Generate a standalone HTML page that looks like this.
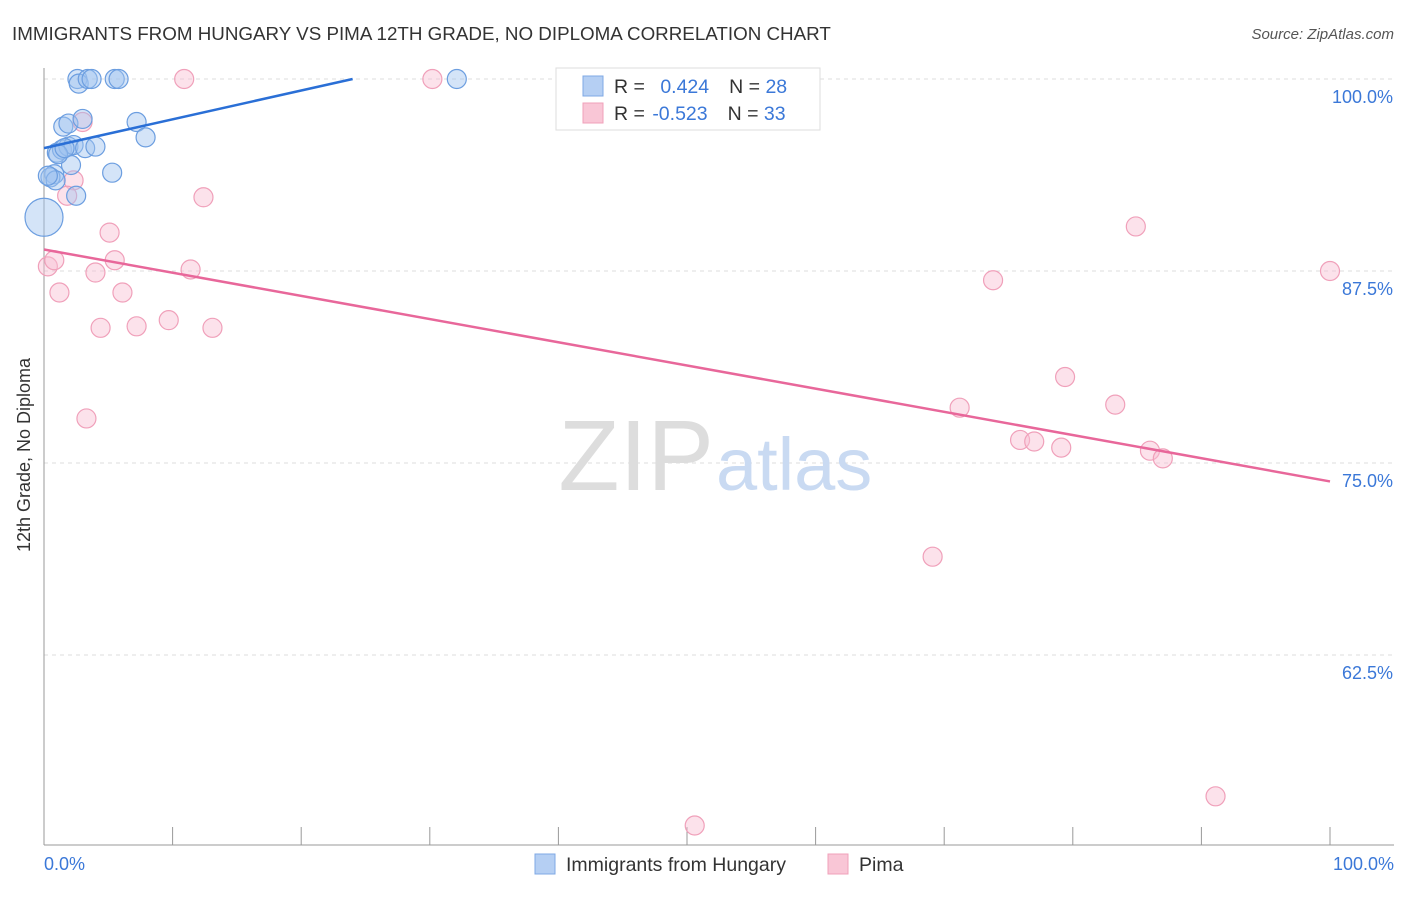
<!DOCTYPE html>
<html><head><meta charset="utf-8"><style>
body{margin:0;background:#fff;font-family:"Liberation Sans",sans-serif}
svg text{font-family:"Liberation Sans",sans-serif}
</style></head><body>
<svg width="1406" height="892">
<text x="12" y="40" font-size="18.8" fill="#333">IMMIGRANTS FROM HUNGARY VS PIMA 12TH GRADE, NO DIPLOMA CORRELATION CHART</text>
<text x="1394" y="39" font-size="15" fill="#555" text-anchor="end" font-style="italic">Source: ZipAtlas.com</text>
<g id="grid"></g>
<text x="714" y="490" font-size="100" fill="#ddd" text-anchor="end" font-family="Liberation Serif">ZIP</text>
<text x="716" y="490" font-size="74" fill="#c9daf2">atlas</text>
<line x1="44" y1="68" x2="44" y2="845" stroke="#999"/>
<line x1="44" y1="845" x2="1394" y2="845" stroke="#999"/>
<g id="pts"></g><g id="lines"></g>
<text x="30" y="455" font-size="18" fill="#333" text-anchor="middle" transform="rotate(-90 30 455)">12th Grade, No Diploma</text>
<text x="44" y="870" font-size="18" fill="#3b78d8">0.0%</text>
<text x="1394" y="870" font-size="18" fill="#3b78d8" text-anchor="end">100.0%</text>
<g>
<rect x="556" y="68" width="264" height="62" fill="#fff" stroke="#ddd"/>
<rect x="583" y="76" width="20" height="20" fill="#b5cff3" stroke="#7fa8e4"/>
<rect x="583" y="103" width="20" height="20" fill="#f9c6d6" stroke="#f0a0ba"/>
<text x="614" y="93" font-size="19.5" fill="#333">R = <tspan fill="#3b78d8" dx="10">0.424</tspan><tspan dx="20" fill="#333">N = </tspan><tspan fill="#3b78d8">28</tspan></text>
<text x="614" y="120" font-size="19.5" fill="#333">R = <tspan fill="#3b78d8" dx="2">-0.523</tspan><tspan dx="20" fill="#333">N = </tspan><tspan fill="#3b78d8">33</tspan></text>
</g>
<g><rect x="535" y="854" width="20" height="20" fill="#b5cff3" stroke="#7fa8e4"/><text x="566" y="871" font-size="19.5" fill="#333">Immigrants from Hungary</text></g>
<g><rect x="828" y="854" width="20" height="20" fill="#f9c6d6" stroke="#f0a0ba"/><text x="859" y="871" font-size="19.5" fill="#333">Pima</text></g>
</svg>
<script>
const yTicks=[100,87.5,75,62.5];
const yTickLabels=["100.0%","87.5%","75.0%","62.5%"];
const blueX=[2.6,2.7,3.4,3.7,5.5,5.8,32.1,1.5,1.9,3.0,7.2,7.9,1.0,1.4,1.9,2.3,3.2,4.0,2.1,0.8,0.5,0.9,2.5,5.3,0.0,1.1,1.6,0.3];
const blueY=[100,99.7,100,100,100,100,100,96.9,97.1,97.4,97.2,96.2,95.2,95.4,95.6,95.7,95.5,95.6,94.4,93.8,93.6,93.4,92.4,93.9,91.0,95.1,95.5,93.7];
const blueR=[9.5,9.5,9.5,9.5,9.5,9.5,9.5,9.5,9.5,9.5,9.5,9.5,9.5,9.5,9.5,9.5,9.5,9.5,9.5,9.5,9.5,9.5,9.5,9.5,19,9.5,9.5,9.5];
const pinkX=[10.9,30.2,3.0,2.3,1.8,12.4,5.1,0.3,0.8,5.5,11.4,4.0,1.2,6.1,4.4,7.2,9.7,13.1,3.3,84.9,100,73.8,79.4,71.2,83.3,75.9,77.0,79.1,86.0,87.0,69.1,50.6,91.1];
const pinkY=[100,100,97.2,93.4,92.4,92.3,90.0,87.8,88.2,88.2,87.6,87.4,86.1,86.1,83.8,83.9,84.3,83.8,77.9,90.4,87.5,86.9,80.6,78.6,78.8,76.5,76.4,76.0,75.8,75.3,68.9,51.4,53.3];
const blueTrend=[95.5,100.0];
const blueTrendX=[0,24];
const pinkTrend=[88.9,73.8];
const pinkTrendX=[0,100];
const NS="http://www.w3.org/2000/svg";
const sx=v=>44+v*12.86;
const sy=v=>79+(100-v)*15.36;
const grid=document.getElementById('grid');
yTicks.forEach((t,i)=>{
 const l=document.createElementNS(NS,'line');
 l.setAttribute('x1',44);l.setAttribute('x2',1394);l.setAttribute('y1',sy(t));l.setAttribute('y2',sy(t));
 l.setAttribute('stroke','#ddd');l.setAttribute('stroke-dasharray','4,4');
 
 
 grid.appendChild(l);
 const tx=document.createElementNS(NS,'text');
 tx.setAttribute('x',1393);tx.setAttribute('y',sy(t)+24);tx.setAttribute('text-anchor','end');
 tx.setAttribute('font-size','18');tx.setAttribute('fill','#3b78d8');tx.textContent=yTickLabels[i];
 
 
 grid.appendChild(tx);
});
for(let i=1;i<=10;i++){
 const x=44+i*128.6;
 const l=document.createElementNS(NS,'line');
 l.setAttribute('x1',x);l.setAttribute('x2',x);l.setAttribute('y1',827);l.setAttribute('y2',845);l.setAttribute('stroke','#999');
 
 
 grid.appendChild(l);
}
const pts=document.getElementById('pts');
function dots(X,Y,R,fill,stroke,name){
 X.forEach((x,i)=>{
  const c=document.createElementNS(NS,'circle');
  c.setAttribute('cx',sx(x));c.setAttribute('cy',sy(Y[i]));c.setAttribute('r',R?R[i]:9.5);
  c.setAttribute('fill',fill);c.setAttribute('stroke',stroke);c.setAttribute('stroke-width','1.2');
  
  
  pts.appendChild(c);
 });
}
dots(pinkX,pinkY,null,'rgba(248,190,210,0.45)','#f0a0ba','pima-point');
dots(blueX,blueY,blueR,'rgba(160,195,240,0.45)','#6c9ee0','hungary-point');
const lines=document.getElementById('lines');
function tl(X,Y,col,name){
 const l=document.createElementNS(NS,'line');
 l.setAttribute('x1',sx(X[0]));l.setAttribute('y1',sy(Y[0]));l.setAttribute('x2',sx(X[1]));l.setAttribute('y2',sy(Y[1]));
 l.setAttribute('stroke',col);l.setAttribute('stroke-width','2.5');
 
 
 lines.appendChild(l);
}
tl(blueTrendX,blueTrend,'#2a6fd6','hungary-trendline');
tl(pinkTrendX,pinkTrend,'#e8679a','pima-trendline');
</script>
</body></html>
